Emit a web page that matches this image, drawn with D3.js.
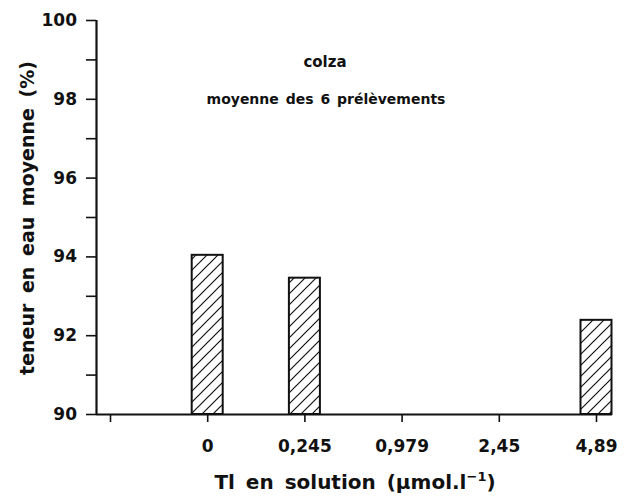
<!DOCTYPE html>
<html>
<head>
<meta charset="utf-8">
<script src="https://cdn.jsdelivr.net/npm/d3@7"></script>
<style>
  html, body { margin: 0; padding: 0; background: #fff; }
  svg { display: block; }
  text { font-family: "DejaVu Sans", sans-serif; font-weight: bold; fill: #111; }
</style>
</head>
<body>
<svg id="chart" width="633" height="499"></svg>
<script>
// Thallium concentrations in the nutrient solution (µmol.l-1); the first slot is an unlabelled tick
const categories = ["", "0", "0,245", "0,979", "2,45", "4,89"];
// Mean water content (%) of rapeseed over the 6 samplings; null = no bar drawn
const waterContent = [null, 94.04, 93.46, null, null, 92.39];
const yMajorTicks = [90, 92, 94, 96, 98, 100];
const yMinorTicks = [91, 93, 95, 97, 99];
const titleLines = ["colza", "moyenne des 6 prélèvements"];

const svg = d3.select("#chart");
const x0 = 96, x1 = 612, yTop = 20, yBottom = 414;

const x = d3.scalePoint().domain(categories).range([110, 596]);
const y = d3.scaleLinear().domain([90, 100]).range([yBottom, yTop]);
const barW = 31;

// diagonal hatching for the bars
const defs = svg.append("defs");
const pat = defs.append("pattern")
  .attr("id", "hatch").attr("patternUnits", "userSpaceOnUse")
  .attr("width", 11).attr("height", 11);
pat.append("rect").attr("width", 11).attr("height", 11).attr("fill", "#fff");
pat.append("path")
  .attr("d", "M-2,2 L2,-2 M0,11 L11,0 M9,13 L13,9")
  .attr("stroke", "#111").attr("stroke-width", 1.2);

// bars
const bars = categories.map((c, i) => ({ c, v: waterContent[i] })).filter(d => d.v != null);
svg.append("g").selectAll("rect").data(bars).join("rect")
  .attr("x", d => x(d.c) - barW / 2)
  .attr("y", d => y(d.v))
  .attr("width", barW)
  .attr("height", d => y(90) - y(d.v))
  .attr("fill", "url(#hatch)")
  .attr("stroke", "#111").attr("stroke-width", 2);

// y axis
const yAxis = svg.append("g").attr("transform", `translate(${x0},0)`)
  .call(d3.axisLeft(y).tickValues(yMajorTicks).tickSize(10).tickPadding(9).tickFormat(d3.format("d")));
svg.append("g").attr("transform", `translate(${x0},0)`)
  .call(d3.axisLeft(y).tickValues(yMinorTicks).tickSize(10).tickFormat(""))
  .select(".domain").remove();

// x axis
const xAxis = svg.append("g").attr("transform", `translate(0,${yBottom})`)
  .call(d3.axisBottom(x).tickSize(8).tickPadding(18));
xAxis.select(".domain").attr("d", `M${x0},0.5H${x1}`);

svg.selectAll(".tick line").attr("stroke", "#111").attr("stroke-width", 1.6);
svg.selectAll(".domain").attr("stroke", "#111").attr("stroke-width", 2.2);
yAxis.select(".domain").attr("d", `M0.5,${yTop}V${yBottom}`);
svg.selectAll(".tick text").style("font-family", "DejaVu Sans").style("font-weight", "bold")
  .style("font-size", "17px").attr("fill", "#111");

// titles inside the plot
svg.append("text").attr("x", 325).attr("y", 67).attr("text-anchor", "middle")
  .style("font-size", "15px").text(titleLines[0]);
svg.append("text").attr("x", 326).attr("y", 104).attr("text-anchor", "middle")
  .style("font-size", "14px").style("word-spacing", "2px").text(titleLines[1]);

// axis titles
svg.append("text")
  .attr("transform", "translate(34,218) rotate(-90)")
  .attr("text-anchor", "middle")
  .style("font-size", "19px").style("word-spacing", "4px")
  .text("teneur en eau moyenne (%)");

const xl = svg.append("text").attr("x", 355).attr("y", 489).attr("text-anchor", "middle")
  .style("font-size", "20px").style("word-spacing", "4px");
xl.append("tspan").text("Tl en solution (µmol.l");
xl.append("tspan").attr("dy", -8).style("font-size", "13px").text("−1");
xl.append("tspan").attr("dy", 8).text(")");
</script>
</body>
</html>
